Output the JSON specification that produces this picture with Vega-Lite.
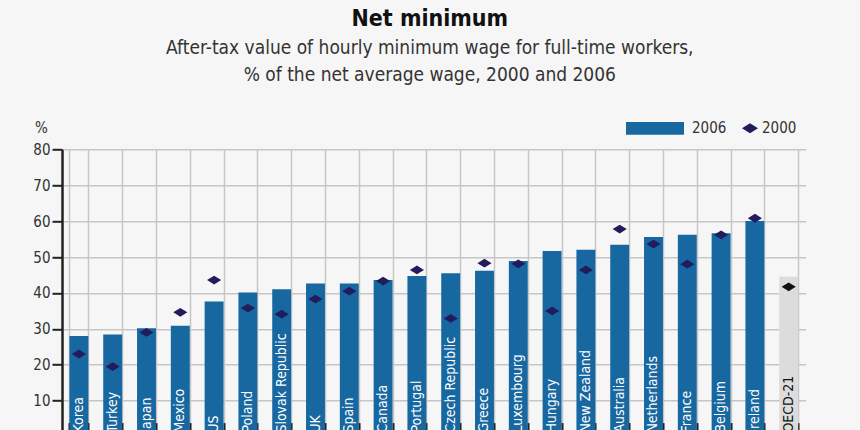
{
  "$schema": "https://vega.github.io/schema/vega-lite/v6.json",
  "width": 743.6,
  "height": 287.3,
  "autosize": "none",
  "padding": {"left": 62, "top": 149.3, "right": 54.4, "bottom": 0},
  "background": "#f6f6f6",
  "config": {
    "view": {"stroke": null},
    "font": "Liberation Sans Narrow, DejaVu Sans Condensed, sans-serif",
    "axisY": {
      "labelOverlap": false,
      "labelFontSize": 15,
      "labelColor": "#333333",
      "labelPadding": 2,
      "tickSize": 10,
      "tickWidth": 2,
      "tickColor": "#222222",
      "domainColor": "#222222",
      "domainWidth": 2.5,
      "grid": true,
      "gridColor": "#c6c6c6",
      "gridWidth": 1.5
    }
  },
  "title": {
    "text": "Net minimum",
    "subtitle": ["After-tax value of hourly minimum wage for full-time workers,", "% of the net average wage, 2000 and 2006"],
    "fontSize": 23,
    "fontWeight": "bold",
    "color": "#111111",
    "subtitleFontSize": 19,
    "subtitleColor": "#333333",
    "subtitleLineHeight": 27,
    "subtitlePadding": 8,
    "anchor": "middle",
    "dx": -4,
    "offset": 14
  },
  "data": {
    "values": [
      {"country": "Korea", "series": "2006", "v2006": 28.0, "v2000": 23.0},
      {"country": "Turkey", "series": "2006", "v2006": 28.4, "v2000": 19.5},
      {"country": "Japan", "series": "2006", "v2006": 30.2, "v2000": 29.0},
      {"country": "Mexico", "series": "2006", "v2006": 30.9, "v2000": 34.6},
      {"country": "US", "series": "2006", "v2006": 37.6, "v2000": 43.6},
      {"country": "Poland", "series": "2006", "v2006": 40.1, "v2000": 35.8},
      {"country": "Slovak Republic", "series": "2006", "v2006": 41.0, "v2000": 34.1},
      {"country": "UK", "series": "2006", "v2006": 42.6, "v2000": 38.3},
      {"country": "Spain", "series": "2006", "v2006": 42.6, "v2000": 40.5},
      {"country": "Canada", "series": "2006", "v2006": 43.6, "v2000": 43.3},
      {"country": "Portugal", "series": "2006", "v2006": 44.7, "v2000": 46.4},
      {"country": "Czech Republic", "series": "2006", "v2006": 45.5, "v2000": 32.9},
      {"country": "Greece", "series": "2006", "v2006": 46.2, "v2000": 48.3},
      {"country": "Luxembourg", "series": "2006", "v2006": 48.9, "v2000": 48.1},
      {"country": "Hungary", "series": "2006", "v2006": 51.7, "v2000": 35.0},
      {"country": "New Zealand", "series": "2006", "v2006": 52.0, "v2000": 46.4},
      {"country": "Australia", "series": "2006", "v2006": 53.4, "v2000": 57.8},
      {"country": "Netherlands", "series": "2006", "v2006": 55.6, "v2000": 53.6},
      {"country": "France", "series": "2006", "v2006": 56.2, "v2000": 48.0},
      {"country": "Belgium", "series": "2006", "v2006": 56.6, "v2000": 56.2},
      {"country": "Ireland", "series": "2006", "v2006": 60.0, "v2000": 60.8},
      {"country": "OECD-21", "series": "OECD", "v2006": 44.5, "v2000": 41.7}
    ]
  },
  "encoding": {
    "x": {
      "field": "country",
      "type": "nominal",
      "sort": null,
      "scale": {"paddingInner": 0.44, "paddingOuter": 0.22},
      "axis": {
        "title": null,
        "labels": false,
        "domain": false,
        "tickBand": "extent",
        "grid": true,
        "gridColor": "#c6c6c6",
        "gridWidth": 1.5,
        "ticks": true,
        "tickSize": -14,
        "tickWidth": 2,
        "tickColor": "#222222"
      }
    }
  },
  "layer": [
    {
      "mark": {"type": "bar"},
      "encoding": {
        "y": {
          "field": "v2006",
          "type": "quantitative",
          "scale": {"domain": [0, 80], "nice": false},
          "axis": {
            "values": [0, 10, 20, 30, 40, 50, 60, 70, 80],
            "tickCount": 9,
            "title": "%",
            "titleAngle": 0,
            "titleX": -21,
            "titleY": -22,
            "titleAlign": "center",
            "titleBaseline": "middle",
            "titleFontSize": 15,
            "titleFontWeight": "normal",
            "titleColor": "#333333"
          }
        },
        "fill": {
          "field": "series",
          "type": "nominal",
          "scale": {"domain": ["2006", "OECD"], "range": ["#1767a0", "#dcdcdc"]},
          "legend": {
            "values": ["2006"],
            "title": null,
            "orient": "none",
            "legendX": 564,
            "legendY": -50,
            "padding": 0,
            "symbolType": "M-1,-0.22H1V0.22H-1Z",
            "symbolSize": 3364,
            "symbolStrokeWidth": 0,
            "labelFontSize": 15,
            "labelColor": "#333333",
            "labelOffset": 8
          }
        }
      }
    },
    {
      "mark": {"type": "point", "filled": true, "size": 200, "opacity": 1},
      "encoding": {
        "y": {
          "field": "v2000",
          "type": "quantitative",
          "axis": {"values": [0, 10, 20, 30, 40, 50, 60, 70, 80], "tickCount": 9}
        },
        "shape": {
          "datum": "2000",
          "scale": {"domain": ["2000"], "range": ["M-1,0L0,-0.62L1,0L0,0.62Z"]},
          "legend": {
            "title": null,
            "orient": "none",
            "legendX": 680,
            "legendY": -29,
            "padding": 0,
            "symbolSize": 256,
            "symbolFillColor": "#231c5c",
            "symbolStrokeWidth": 0,
            "labelFontSize": 15,
            "labelColor": "#333333",
            "labelOffset": 4
          }
        },
        "color": {
          "condition": {"test": "datum.country === 'OECD-21'", "value": "#111111"},
          "value": "#231c5c"
        }
      }
    },
    {
      "mark": {"type": "text", "angle": 270, "align": "left", "baseline": "middle", "dx": 4, "fontSize": 14},
      "encoding": {
        "y": {
          "datum": 0,
          "type": "quantitative",
          "axis": {"values": [0, 10, 20, 30, 40, 50, 60, 70, 80], "tickCount": 9}
        },
        "text": {"field": "country"},
        "color": {
          "condition": {"test": "datum.country === 'OECD-21'", "value": "#111111"},
          "value": "#ffffff"
        }
      }
    }
  ]
}
